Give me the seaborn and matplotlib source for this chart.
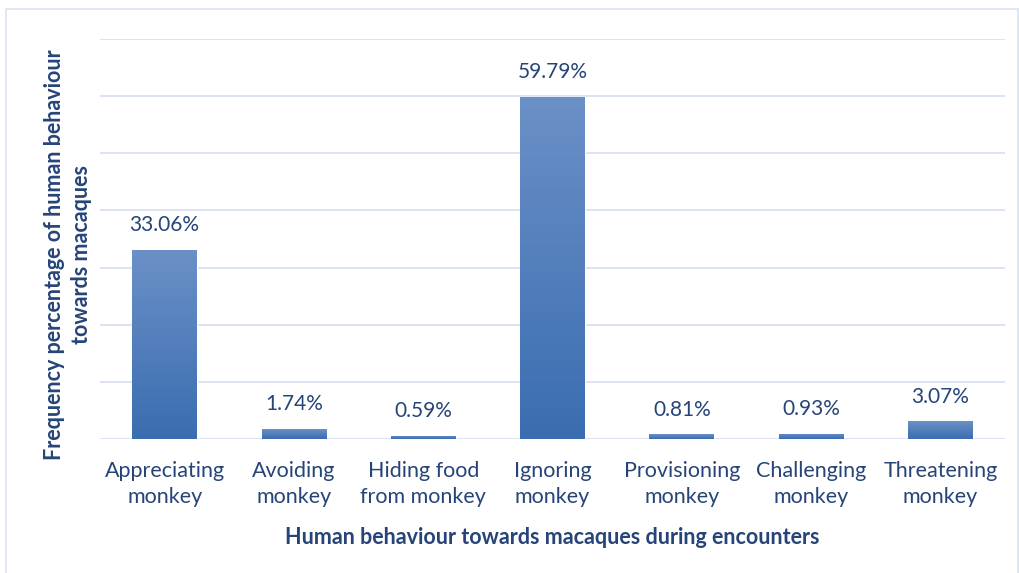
import numpy as np
import pandas as pd
import matplotlib
matplotlib.use("Agg")
import matplotlib.pyplot as plt
import seaborn as sns
from matplotlib.colors import LinearSegmentedColormap
from matplotlib.patches import Rectangle

categories = ["Appreciating\nmonkey", "Avoiding\nmonkey", "Hiding food\nfrom monkey",
              "Ignoring\nmonkey", "Provisioning\nmonkey", "Challenging\nmonkey",
              "Threatening\nmonkey"]
percentages = [33.06, 1.74, 0.59, 59.79, 0.81, 0.93, 3.07]
value_labels = ["33.06%", "1.74%", "0.59%", "59.79%", "0.81%", "0.93%", "3.07%"]

df = pd.DataFrame({"behaviour": categories, "pct": percentages})

sns.set_theme(style="white")
plt.rcParams["font.family"] = ["Lato", "DejaVu Sans"]

text_color = "#264478"
grid_color = "#d9e2f3"

fig = plt.figure(figsize=(10.2, 5.73), dpi=100)
# light outer frame around the chart
fig.patches.append(Rectangle((6 / 1020, -0.02), 1012 / 1020, 1 - 9 / 573 + 0.02,
                             transform=fig.transFigure, fill=False,
                             edgecolor=grid_color, linewidth=1.2))
ax = fig.add_axes([100 / 1020, (573 - 439) / 573, 905 / 1020, 400 / 573])

sns.barplot(data=df, x="behaviour", y="pct", color="#4a7ebb", width=0.5,
            ax=ax, zorder=3)
ax.set_ylim(0, 70)
ax.set_yticks(np.arange(0, 71, 10))
ax.set_yticklabels([])
ax.tick_params(axis="y", length=0)
ax.tick_params(axis="x", length=0, labelsize=15.5, labelcolor=text_color, pad=16)
for t in ax.get_xticklabels():
    t.set_linespacing(1.38)
ax.grid(axis="y", color=grid_color, linewidth=1.3, zorder=0)
for s in ax.spines.values():
    s.set_visible(False)

# vertical gradient fill on each bar
cmap = LinearSegmentedColormap.from_list("bar", ["#3a6db0", "#6b90c7"])
grad = np.linspace(0, 1, 256).reshape(-1, 1)
for patch in ax.patches:
    x0, y0 = patch.get_x(), patch.get_y()
    w, h = patch.get_width(), patch.get_height()
    im = ax.imshow(grad, cmap=cmap, origin="lower", aspect="auto",
                   extent=(x0, x0 + w, y0, y0 + h), zorder=4)
    im.set_clip_path(patch)
ax.set_xlim(-0.5, len(categories) - 0.5)
ax.set_ylim(0, 70)

for i, (v, lab) in enumerate(zip(percentages, value_labels)):
    ax.text(i, v + 2.6, lab, ha="center", va="bottom", fontsize=15,
            color=text_color, zorder=5)

ax.set_xlabel("Human behaviour towards macaques during encounters",
              fontsize=15.5, fontweight="bold", color=text_color, labelpad=14)
ax.set_ylabel("")
fig.text(68 / 1020, 1 - 255 / 573,
         "Frequency percentage of human behaviour\ntowards macaques",
         rotation=90, ha="center", va="center", multialignment="center",
         fontsize=15.5, fontweight="bold", color=text_color, linespacing=1.4)

fig.savefig("out.png", dpi=100)
